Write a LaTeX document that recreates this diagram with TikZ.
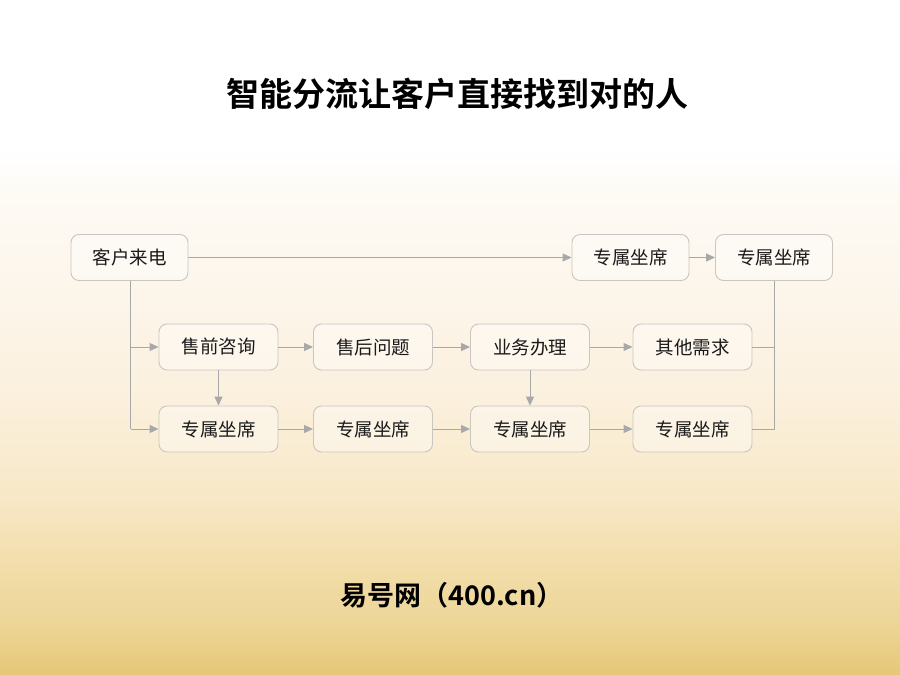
\documentclass[tikz,border=0pt]{standalone}
\usepackage{fontspec}
\setmainfont{Noto Sans CJK SC}
\newfontfamily\cjkbold{Noto Sans CJK SC Bold}
\usetikzlibrary{arrows.meta}
\definecolor{lineg}{HTML}{A8A8A8}
\definecolor{boxline}{HTML}{C9C6C0}
\definecolor{txt}{HTML}{1A1A1A}
\definecolor{bgA}{HTML}{FEFAF4}
\definecolor{bgB}{HTML}{FCF5EA}
\definecolor{bgC}{HTML}{FBF0DD}
\definecolor{bgD}{HTML}{F7E8C6}
\definecolor{bgE}{HTML}{F3DFAE}
\definecolor{bgF}{HTML}{EDD597}
\definecolor{bgG}{HTML}{E6C776}
\pgfdeclareverticalshading{bgshade}{100bp}{
  color(0bp)=(bgG);
  color(25bp)=(bgG);
  color(28.7bp)=(bgF);
  color(33.9bp)=(bgE);
  color(38bp)=(bgD);
  color(45.4bp)=(bgC);
  color(52.8bp)=(bgB);
  color(60.2bp)=(bgA);
  color(64bp)=(white);
  color(100bp)=(white)}
\tikzset{
  flowbox/.style={draw=boxline, line width=0.9pt, rounded corners=8pt,
    fill=white, fill opacity=0.35, text opacity=1,
    minimum width=117pt, minimum height=46pt, inner sep=0pt,
    font=\fontsize{18.5}{20}\selectfont, text=txt},
  conn/.style={draw=lineg, line width=1pt},
  arr/.style={conn, -{Triangle[length=9pt,width=8pt,fill=lineg]}}
}
\begin{document}
\begin{tikzpicture}[x=1pt,y=-1pt]
\useasboundingbox (0,0) rectangle (900,675);
\shade[shading=bgshade] (0,0) rectangle (900,675);

\node[font=\cjkbold\fontsize{33}{36}\selectfont, text=black] (title) at (457,94) {智能分流让客户直接找到对的人};
\node[font=\cjkbold\fontsize{27}{30}\selectfont, text=black] (footer) at (452,595) {易号网（400.cn）};

\node[flowbox, minimum width=117pt] (call) at (129.5,257.5) {客户来电};
\node[flowbox] (t1) at (630.5,257.5) {专属坐席};
\node[flowbox] (t2) at (774,257.5) {专属坐席};

\node[flowbox, minimum width=119pt] (m1) at (218.5,347) {售前咨询};
\node[flowbox, minimum width=119pt] (m2) at (373,347) {售后问题};
\node[flowbox, minimum width=119pt] (m3) at (530,347) {业务办理};
\node[flowbox, minimum width=119pt] (m4) at (692.5,347) {其他需求};

\node[flowbox, minimum width=119pt] (b1) at (218.5,429) {专属坐席};
\node[flowbox, minimum width=119pt] (b2) at (373,429) {专属坐席};
\node[flowbox, minimum width=119pt] (b3) at (530,429) {专属坐席};
\node[flowbox, minimum width=119pt] (b4) at (692.5,429) {专属坐席};

\coordinate (split) at (130.5,281);
\draw[arr] (call.east) -- (t1.west);
\draw[arr] (t1.east) -- (t2.west);
\draw[conn] (call.south -| split) -- (split |- b1.west);
\draw[arr] (split |- m1.west) -- (m1.west);
\draw[arr] (split |- b1.west) -- (b1.west);
\draw[arr] (m1.east) -- (m2.west);
\draw[arr] (m2.east) -- (m3.west);
\draw[arr] (m3.east) -- (m4.west);
\draw[arr] (b1.east) -- (b2.west);
\draw[arr] (b2.east) -- (b3.west);
\draw[arr] (b3.east) -- (b4.west);
\draw[arr] (m1.south) -- (b1.north);
\draw[arr] (m3.south) -- (b3.north);
\draw[conn] (t2.south) |- (b4.east);
\draw[conn] (m4.east) -- (t2.south |- m4.east);
\end{tikzpicture}
\end{document}
